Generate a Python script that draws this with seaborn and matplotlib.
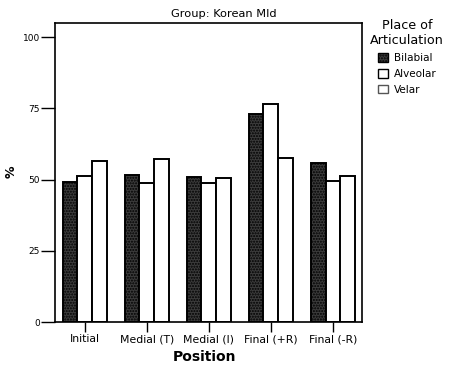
import matplotlib
matplotlib.use("Agg")
import matplotlib.pyplot as plt
import seaborn as sns
import pandas as pd
import numpy as np
from matplotlib.patches import Patch

positions = ["Initial", "Medial (T)", "Medial (I)", "Final (+R)", "Final (-R)"]
places = ["Bilabial", "Alveolar", "Velar"]
bilabial = [49.2, 51.6, 51.0, 73.0, 56.0]
alveolar = [51.2, 48.9, 48.9, 76.4, 49.5]
velar = [56.6, 57.2, 50.5, 57.6, 51.3]
yticks = [0, 25, 50, 75, 100]

rows = []
for series, name in zip([bilabial, alveolar, velar], places):
    for p, v in zip(positions, series):
        rows.append({"Position": p, "Place": name, "Pct": v})
df = pd.DataFrame(rows)

sns.set_theme(style="ticks")
plt.rcParams["font.family"] = ["DejaVu Sans"]
plt.rcParams["hatch.color"] = "#9a9a9a"
plt.rcParams["text.color"] = "black"
plt.rcParams["axes.labelcolor"] = "black"
plt.rcParams["xtick.color"] = "black"
plt.rcParams["ytick.color"] = "black"

fig = plt.figure(figsize=(4.56, 3.69), dpi=100)
ax = fig.add_axes([55/456, 1-322/369, (362-55)/456, (322-23)/369])

palette = {"Bilabial": "#3c3c3c", "Alveolar": "#ffffff", "Velar": "#ffffff"}
sns.barplot(data=df, x="Position", y="Pct", hue="Place", order=positions,
            hue_order=places, palette=palette, width=0.71, ax=ax,
            edgecolor="black", linewidth=1.4, legend=False, saturation=1)

for cont, h in zip(ax.containers, ["......", "", ""]):
    for bar in cont:
        bar.set_hatch(h)

ax.set_xlim(-0.48, 4.47)
ax.set_ylim(0, 105)
ax.set_yticks(yticks)
ax.set_yticklabels([str(t) for t in yticks], fontsize=6.5)
ax.set_xticks(range(len(positions)))
ax.set_xticklabels(positions, fontsize=7.8)
ax.tick_params(axis="x", direction="out", length=7, width=1, pad=2)
ax.tick_params(axis="y", direction="out", length=10, width=1, pad=1)
for s in ax.spines.values():
    s.set_visible(True)
    s.set_linewidth(1.2)
    s.set_color("black")
ax.set_xlabel("Position", fontsize=10, fontweight="bold")
ax.xaxis.set_label_coords((205-55)/307, -(350-322)/299)
ax.set_ylabel("%", fontsize=9, fontweight="bold")
ax.yaxis.set_label_coords((18-55)/307, (322-172)/299)
ax.set_title("Group: Korean Mld", fontsize=8.2, x=(224-55)/307, pad=4)

handles = [Patch(facecolor="#3c3c3c", edgecolor="black", hatch="......", label="Bilabial"),
           Patch(facecolor="white", edgecolor="black", label="Alveolar"),
           Patch(facecolor="white", edgecolor="#555555", label="Velar")]
leg = fig.legend(handles=handles, title="Place of\nArticulation", loc="upper left",
                 bbox_to_anchor=(362/456, 1-11/369), frameon=False, fontsize=7.5,
                 title_fontsize=9.2, handlelength=1.0, handleheight=0.9,
                 handletextpad=0.6, labelspacing=0.55, borderpad=0.3)
leg.get_title().set_multialignment("center")

fig.savefig("out.png", dpi=100)
